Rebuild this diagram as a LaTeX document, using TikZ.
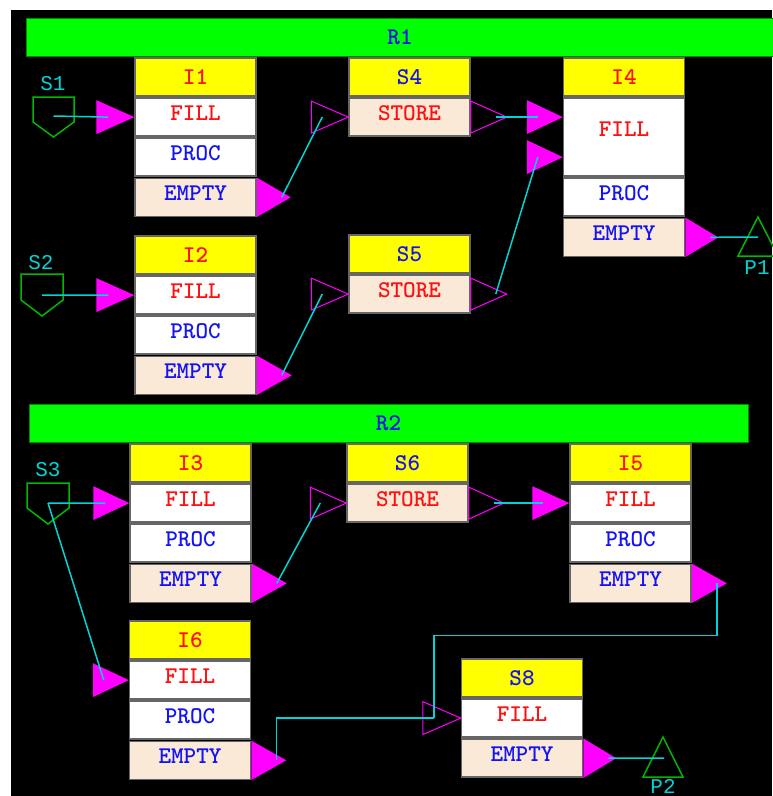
\documentclass[tikz,border=0pt]{standalone}
\usepackage{fontspec}
\newfontfamily\lblfont{Liberation Mono}
\usetikzlibrary{positioning}
\definecolor{BarGreen}{HTML}{00FF00}
\definecolor{SrcGreen}{HTML}{00B800}
\definecolor{HdrYellow}{HTML}{FFFF00}
\definecolor{CellTan}{HTML}{FAE9D7}
\definecolor{WireCyan}{HTML}{00D4D4}
\definecolor{PortMagenta}{HTML}{FF00FF}
\definecolor{TxtRed}{HTML}{FF1010}
\definecolor{TxtBlue}{HTML}{1414F0}
\begin{document}
\begin{tikzpicture}[x=1pt,y=-1pt,font=\ttfamily\bfseries\fontsize{24}{28}\selectfont,
 line width=1.5pt,node distance=0.6pt,
 hdr/.style={draw=black!60,fill=HdrYellow,minimum width=121pt,minimum height=38pt,inner sep=0pt},
 body/.style={hdr,fill=white,text height=15pt,text depth=8pt},
 tan/.style={body,fill=CellTan},
 port/.style={fill=PortMagenta},
 hollow/.style={draw=PortMagenta,line width=1pt},
 wire/.style={draw=WireCyan,line width=1.5pt},
 src/.style={draw=SrcGreen,line width=1.5pt},
 lbl/.style={text=WireCyan,inner sep=0pt,font=\lblfont\fontsize{21}{24}\selectfont},
 bar/.style={draw=green!55!black,line width=1pt,fill=BarGreen,minimum height=38pt,text=TxtBlue,inner sep=0pt}]
\useasboundingbox (0,0) rectangle (772,796);
\fill[black] (11,10) rectangle (772,796);
\node[bar,minimum width=748pt] (r1) at (400,37) {R1};
\node[bar,minimum width=719pt] (r2) at (388.5,423) {R2};

\node[hdr,text=TxtRed] (i1) at (195.5,77) {I1};
\node[body,text=TxtRed,below=of i1] (i1f) {FILL};
\node[body,text=TxtBlue,below=of i1f] (i1p) {PROC};
\node[tan,text=TxtBlue,below=of i1p] (i1e) {EMPTY};
\node[hdr,text=TxtRed] (i2) at (195.5,255) {I2};
\node[body,text=TxtRed,below=of i2] (i2f) {FILL};
\node[body,text=TxtBlue,below=of i2f] (i2p) {PROC};
\node[tan,text=TxtBlue,below=of i2p] (i2e) {EMPTY};
\node[hdr,text=TxtRed] (i3) at (190.5,463) {I3};
\node[body,text=TxtRed,below=of i3] (i3f) {FILL};
\node[body,text=TxtBlue,below=of i3f] (i3p) {PROC};
\node[tan,text=TxtBlue,below=of i3p] (i3e) {EMPTY};
\node[hdr,text=TxtRed] (i5) at (630.5,463) {I5};
\node[body,text=TxtRed,below=of i5] (i5f) {FILL};
\node[body,text=TxtBlue,below=of i5f] (i5p) {PROC};
\node[tan,text=TxtBlue,below=of i5p] (i5e) {EMPTY};
\node[hdr,text=TxtRed] (i6) at (190,640) {I6};
\node[body,text=TxtRed,below=of i6] (i6f) {FILL};
\node[body,text=TxtBlue,below=of i6f] (i6p) {PROC};
\node[tan,text=TxtBlue,below=of i6p] (i6e) {EMPTY};
\node[hdr,text=TxtRed] (i4) at (624,77) {I4};
\node[body,text=TxtRed,minimum height=78pt,text depth=17pt,below=of i4] (i4f) {FILL};
\node[body,text=TxtBlue,below=of i4f] (i4p) {PROC};
\node[tan,text=TxtBlue,below=of i4p] (i4e) {EMPTY};

\node[hdr,text=TxtBlue] (s4) at (409.5,77) {S4};
\node[tan,text=TxtRed,below=of s4] (s4s) {STORE};
\node[hdr,text=TxtBlue] (s5) at (409.5,254) {S5};
\node[tan,text=TxtRed,below=of s5] (s5s) {STORE};
\node[hdr,text=TxtBlue] (s6) at (407.5,463) {S6};
\node[tan,text=TxtRed,below=of s6] (s6s) {STORE};
\node[hdr,text=TxtBlue] (s8) at (522,678) {S8};
\node[body,text=TxtRed,below=of s8] (s8f) {FILL};
\node[tan,text=TxtBlue,below=of s8f] (s8e) {EMPTY};

\begin{scope}[shift={(33,97)}]
 \draw[src] (0,0)--(41,0)--(41,25)--(20.5,40)--(0,25)--cycle;
 \coordinate (s1) at (20.5,19);
 \node[lbl] (s1l) at (20,-13) {S1};
\end{scope}
\begin{scope}[shift={(21,274)}]
 \draw[src] (0,0)--(42,0)--(42,26)--(21,42)--(0,26)--cycle;
 \coordinate (s2) at (21,21);
 \node[lbl] (s2l) at (20,-11) {S2};
\end{scope}
\begin{scope}[shift={(27,483)}]
 \draw[src] (0,0)--(42,0)--(42,25)--(21,41)--(0,25)--cycle;
 \coordinate (s3) at (21,20);
 \node[lbl] (s3l) at (21,-13) {S3};
\end{scope}
\draw[src] (758,217)--(778,256)--(738,256)--cycle;
\coordinate (p1) at (758,237);
\node[lbl] (p1l) at (757,268) {P1};
\draw[src] (663,737)--(683,777)--(643,777)--cycle;
\coordinate (p2) at (664,758);
\node[lbl] (p2l) at (663,786) {P2};

\fill[port] (i1f.west) -- ++(-38,-17) -- ++(0,34) -- cycle;
\fill[port] (i2f.west) -- ++(-38,-17) -- ++(0,34) -- cycle;
\fill[port] (i3f.west) -- ++(-36,-17) -- ++(0,34) -- cycle;
\fill[port] (i5f.west) -- ++(-37,-17) -- ++(0,34) -- cycle;
\fill[port] (i6f.west) -- ++(-36,-17) -- ++(0,34) -- cycle;
\fill[port] ([yshift=20pt]i4f.west) -- ++(-36,-17) -- ++(0,34) -- cycle;
\fill[port] ([yshift=-20pt]i4f.west) -- ++(-36,-17) -- ++(0,34) -- cycle;
\fill[port] (i1e.north east) -- (i1e.south east) -- ([xshift=34pt]i1e.east) -- cycle;
\fill[port] (i2e.north east) -- (i2e.south east) -- ([xshift=35pt]i2e.east) -- cycle;
\fill[port] (i3e.north east) -- (i3e.south east) -- ([xshift=35pt]i3e.east) -- cycle;
\fill[port] (i5e.north east) -- (i5e.south east) -- ([xshift=35pt]i5e.east) -- cycle;
\fill[port] (i6e.north east) -- (i6e.south east) -- ([xshift=35pt]i6e.east) -- cycle;
\fill[port] (i4e.north east) -- (i4e.south east) -- ([xshift=33pt]i4e.east) -- cycle;
\fill[port] (s8e.north east) -- (s8e.south east) -- ([xshift=33pt]s8e.east) -- cycle;
\draw[hollow] (s4s.west) -- ++(-37,-16) -- ++(0,32) -- cycle;
\draw[hollow] (s5s.west) -- ++(-37,-16) -- ++(0,32) -- cycle;
\draw[hollow] (s6s.west) -- ++(-36,-16) -- ++(0,32) -- cycle;
\draw[hollow] (s8f.west) -- ++(-38,-16.5) -- ++(0,33) -- cycle;
\draw[hollow] (s4s.east) ++(0,-16) -- ++(36,16) -- ++(-36,16) -- cycle;
\draw[hollow] (s5s.east) ++(0,-16) -- ++(36,16) -- ++(-36,16) -- cycle;
\draw[hollow] (s6s.east) ++(0,-16) -- ++(35,16) -- ++(-35,16) -- cycle;

\coordinate (i1in) at ([xshift=-26pt]i1f.west);
\coordinate (i2in) at ([xshift=-26pt]i2f.west);
\coordinate (i3in) at ([xshift=-24pt]i3f.west);
\coordinate (i5in) at ([xshift=-26pt]i5f.west);
\coordinate (i6in) at ([xshift=-25pt]i6f.west);
\coordinate (i4ina) at ([xshift=-25pt,yshift=20pt]i4f.west);
\coordinate (i4inb) at ([xshift=-25pt,yshift=-20pt]i4f.west);
\coordinate (s4in) at ([xshift=-26pt]s4s.west);
\coordinate (s5in) at ([xshift=-26pt]s5s.west);
\coordinate (s6in) at ([xshift=-26pt]s6s.west);
\coordinate (s8in) at ([xshift=-27pt]s8f.west);
\coordinate (s4out) at ([xshift=25pt]s4s.east);
\coordinate (s5out) at ([xshift=25pt]s5s.east);
\coordinate (s6out) at ([xshift=25pt]s6s.east);
\coordinate (i1out) at ([xshift=25pt]i1e.east);
\coordinate (i2out) at ([xshift=25pt]i2e.east);
\coordinate (i3out) at ([xshift=25pt]i3e.east);
\coordinate (i5out) at ([xshift=25pt]i5e.east);
\coordinate (i6out) at ([xshift=25pt]i6e.east);
\coordinate (i4out) at ([xshift=25pt]i4e.east);
\coordinate (s8out) at ([xshift=25pt]s8e.east);

\draw[wire] (s1) -- (i1in);
\draw[wire] (s2) -- (i2in);
\draw[wire] (s3) -- (i3in);
\draw[wire] (s3) -- (i6in);
\draw[wire] (i1out) -- (s4in);
\draw[wire] (i2out) -- (s5in);
\draw[wire] (s4out) -- (i4ina);
\draw[wire] (s5out) -- (i4inb);
\draw[wire] (i4out) -- (p1);
\draw[wire] (i3out) -- (s6in);
\draw[wire] (s6out) -- (i5in);
\draw[wire] (i5out) -- ++(0,52) -| (s8in);
\draw[wire] (i6out) |- (s8in);
\draw[wire] (s8out) -- (p2);
\end{tikzpicture}
\end{document}
